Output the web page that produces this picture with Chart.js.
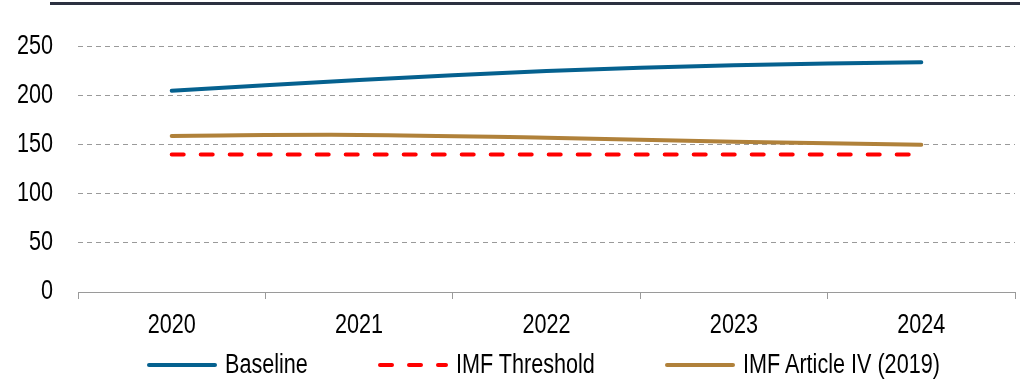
<!DOCTYPE html>
<html>
<head>
<meta charset="utf-8">
<script src="https://cdn.jsdelivr.net/npm/chart.js@4.4.1/dist/chart.umd.min.js"></script>
<style>
  html, body { margin: 0; padding: 0; background: #fff; }
  #wrap { position: relative; width: 1026px; height: 379px; overflow: hidden; }
  #c { display: block; }
  #topRule { position: absolute; left: 50px; top: 2px; width: 970px; height: 3px; background: #2c3140; }
  #legend {
    position: absolute; left: 0; top: 351px; width: 1026px; box-sizing: border-box;
    padding-left: 61px; display: flex; justify-content: center; align-items: center;
    font-family: "Liberation Sans", Arial, sans-serif;
    font-size: 27px; line-height: 27px; color: #000; white-space: nowrap;
  }
  .item { display: flex; align-items: center; }
  .item + .item { margin-left: 70px; }
  .item svg { display: block; margin-right: 8px; flex: none; }
  .label { position: relative; height: 27px; flex: none; }
  .label span { position: absolute; left: 0; top: 0; transform-origin: 0 50%; }
</style>
</head>
<body>
<div id="wrap">
  <div id="topRule"></div>
  <canvas id="c" width="1026" height="379"></canvas>
  <div id="legend"></div>
</div>
<script>
// Debt ratio paths, 2020-2024
const years = ['2020', '2021', '2022', '2023', '2024'];
const baseline = [205, 216, 225, 231, 234];
const imfThreshold = [140, 140, 140, 140, 140];
const imfArticleIV = [159, 160, 157, 153, 150];
const yTickValues = [0, 50, 100, 150, 200, 250];

const FONT_FAMILY = '"Liberation Sans", Arial, sans-serif';
const TEXT_SIZE = 27;
const TEXT_SQUEEZE = 0.8;   // narrow lettering, as in Arial Narrow
const AXIS_GREY = '#9a9a9a';

// Axis labels in narrow lettering, placed from the chart's own scales
const narrowAxisLabels = {
  id: 'narrowAxisLabels',
  afterDraw(chart) {
    const ctx = chart.ctx;
    const xs = chart.scales.x;
    const ys = chart.scales.y;
    ctx.save();
    ctx.fillStyle = '#000';
    ctx.font = TEXT_SIZE + 'px ' + FONT_FAMILY;

    ctx.textAlign = 'center';
    ctx.textBaseline = 'alphabetic';
    xs.ticks.forEach((t, i) => {
      ctx.save();
      ctx.translate(xs.getPixelForTick(i), xs.top + 41);
      ctx.scale(TEXT_SQUEEZE, 1);
      ctx.fillText(xs.getLabelForValue(t.value), 0, 0);
      ctx.restore();
    });

    ctx.textAlign = 'right';
    ctx.textBaseline = 'middle';
    ys.ticks.forEach(t => {
      ctx.save();
      ctx.translate(ys.right - 25, ys.getPixelForValue(t.value));
      ctx.scale(TEXT_SQUEEZE, 1);
      ctx.fillText(String(t.value), 0, 0);
      ctx.restore();
    });
    ctx.restore();
  }
};

const chart = new Chart(document.getElementById('c'), {
  type: 'line',
  data: {
    labels: years,
    datasets: [
      {
        label: 'Baseline',
        data: baseline,
        borderColor: '#05618f',
        backgroundColor: '#05618f',
        borderWidth: 4,
        borderCapStyle: 'round',
        tension: 0.4,
        pointRadius: 0,
        fill: false
      },
      {
        label: 'IMF Threshold',
        data: imfThreshold,
        borderColor: '#ff0000',
        backgroundColor: '#ff0000',
        borderWidth: 4,
        borderDash: [12, 17],
        borderCapStyle: 'round',
        tension: 0,
        pointRadius: 0,
        fill: false
      },
      {
        label: 'IMF Article IV (2019)',
        data: imfArticleIV,
        borderColor: '#b0813a',
        backgroundColor: '#b0813a',
        borderWidth: 4,
        borderCapStyle: 'round',
        tension: 0.4,
        pointRadius: 0,
        fill: false
      }
    ]
  },
  options: {
    responsive: false,
    animation: false,
    devicePixelRatio: 1,
    layout: { padding: { top: 22, right: 11, bottom: 42, left: 0 } },
    plugins: {
      legend: { display: false },
      tooltip: { enabled: false }
    },
    scales: {
      x: {
        offset: true,
        grid: {
          offset: true,
          drawOnChartArea: false,
          drawTicks: true,
          tickLength: 7,
          tickColor: AXIS_GREY,
          tickWidth: 1
        },
        border: { display: true, color: AXIS_GREY, width: 1 },
        ticks: { display: false },
        afterFit: s => { s.height = 45; s.paddingLeft = 0; s.paddingRight = 0; }
      },
      y: {
        min: 0,
        max: 275,
        grid: {
          drawTicks: false,
          color: ctx => (ctx.tick && ctx.tick.value === 0) ? 'rgba(0,0,0,0)' : AXIS_GREY,
          lineWidth: 1
        },
        border: { display: false, dash: [5, 4] },
        ticks: { display: false },
        afterBuildTicks: s => { s.ticks = yTickValues.map(v => ({ value: v })); },
        afterFit: s => { s.width = 78; s.paddingTop = 0; s.paddingBottom = 0; }
      }
    }
  },
  plugins: [narrowAxisLabels]
});

// Legend built from the chart's own legend items
const legendEl = document.getElementById('legend');
const items = Chart.defaults.plugins.legend.labels.generateLabels(chart);
const SVG_NS = 'http://www.w3.org/2000/svg';
items.forEach(it => {
  const row = document.createElement('div');
  row.className = 'item';
  const svg = document.createElementNS(SVG_NS, 'svg');
  svg.setAttribute('width', '70');
  svg.setAttribute('height', '8');
  const ln = document.createElementNS(SVG_NS, 'line');
  ln.setAttribute('x1', '2');
  ln.setAttribute('x2', '68');
  ln.setAttribute('y1', '4');
  ln.setAttribute('y2', '4');
  ln.setAttribute('stroke', it.strokeStyle);
  ln.setAttribute('stroke-width', it.lineWidth);
  ln.setAttribute('stroke-linecap', 'round');
  if (it.lineDash && it.lineDash.length) ln.setAttribute('stroke-dasharray', it.lineDash.join(' '));
  svg.appendChild(ln);
  const box = document.createElement('div');
  box.className = 'label';
  const txt = document.createElement('span');
  txt.textContent = it.text;
  box.appendChild(txt);
  row.appendChild(svg);
  row.appendChild(box);
  legendEl.appendChild(row);
  const w = txt.getBoundingClientRect().width;
  txt.style.transform = 'scaleX(' + TEXT_SQUEEZE + ')';
  box.style.width = (w * TEXT_SQUEEZE) + 'px';
});
</script>
</body>
</html>
